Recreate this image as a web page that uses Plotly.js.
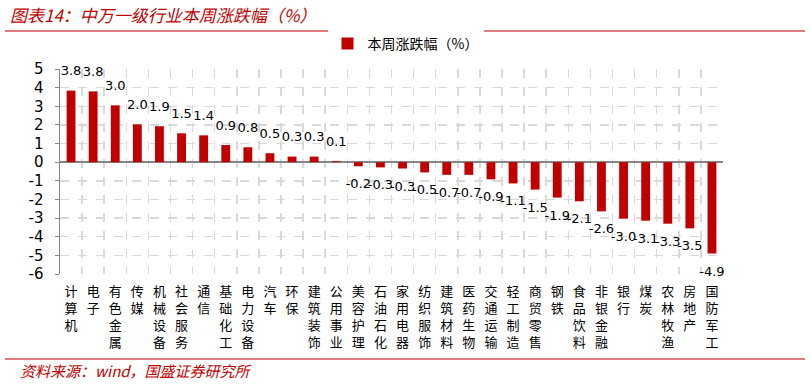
<!DOCTYPE html>
<html><head><meta charset="utf-8">
<script src="https://cdn.plot.ly/plotly-3.0.1.min.js"></script>
<style>html,body{margin:0;padding:0;background:#fff}#chart{width:811px;height:384px}</style>
</head><body><div id="chart"></div>
<script>
const categories = ["计算机","电子","有色金属","传媒","机械设备","社会服务","通信","基础化工","电力设备","汽车","环保","建筑装饰","公用事业","美容护理","石油石化","家用电器","纺织服饰","建筑材料","医药生物","交通运输","轻工制造","商贸零售","钢铁","食品饮料","非银金融","银行","煤炭","农林牧渔","房地产","国防军工"];
const values = [3.84,3.8,3.05,2.03,1.93,1.55,1.44,0.92,0.8,0.48,0.3,0.3,0.05,-0.22,-0.28,-0.34,-0.55,-0.68,-0.68,-0.92,-1.14,-1.47,-1.9,-2.1,-2.64,-3.03,-3.14,-3.3,-3.55,-4.9];
const labels = ["3.8","3.8","3.0","2.0","1.9","1.5","1.4","0.9","0.8","0.5","0.3","0.3","0.1","-0.2","-0.3","-0.3","-0.5","-0.7","-0.7","-0.9","-1.1","-1.5","-1.9","-2.1","-2.6","-3.0","-3.1","-3.3","-3.5","-4.9"];
const yTicks = [5,4,3,2,1,0,-1,-2,-3,-4,-5,-6];
const seriesName = "本周涨跌幅（%）";
const titleText = "图表14：中万一级行业本周涨跌幅（%）";
const sourceText = "资料来源：wind，国盛证券研究所";

const tickText = categories.map(c => c.split("").join("<br>"));

const bars = {
  type: "bar", x: categories, y: values, name: seriesName,
  marker: {color: "#C00000"}, width: 0.4, showlegend: true, hoverinfo: "skip"
};
const valueLabels = {
  type: "scatter", mode: "markers+text", x: categories, y: values, text: labels,
  textposition: values.map(v => v >= 0 ? "top center" : "bottom center"),
  marker: {size: 18, opacity: 0, color: "#C00000"}, cliponaxis: false, showlegend: false,
  textfont: {family: "DejaVu Sans", size: 13, color: "#000"}, hoverinfo: "skip"
};

const L = 60, R = 723, T = 69, B = 274;
const W = R - L, H = B - T;
const px = x => (x - L) / W;
const py = y => (B - y) / H;

const layout = {
  width: 811, height: 384,
  margin: {l: L, r: 811 - R, t: T, b: 384 - B},
  paper_bgcolor: "#fff", plot_bgcolor: "#fff",
  showlegend: true,
  legend: {orientation: "h", xref: "container", yref: "container", x: 0.5, xanchor: "center", y: 1 - 44/384, yanchor: "middle",
    font: {family: "Noto Sans CJK SC", size: 14, color: "#000"}},
  xaxis: {type: "category", tickvals: categories, ticktext: tickText, tickson: "boundaries",
    showgrid: true, gridcolor: "#D9D9D9", griddash: "dash", gridwidth: 1.5,
    ticks: "", showline: false, zeroline: false, ticklabelstandoff: 8,
    tickfont: {family: "Noto Sans CJK SC", size: 13, color: "#000"}, tickangle: 0, range: [-0.5, 29.5]},
  yaxis: {range: [-6, 5], tickvals: yTicks, ticktext: yTicks.map(String),
    showgrid: true, gridcolor: "#D9D9D9", griddash: "dash", gridwidth: 1.5,
    zeroline: true, zerolinecolor: "#868686", zerolinewidth: 1.5,
    showline: true, linecolor: "#868686", linewidth: 1.5,
    ticks: "outside", ticklen: 4, tickcolor: "#868686", ticklabelstandoff: 8,
    tickfont: {family: "DejaVu Sans", size: 15, color: "#000"}},
  shapes: [
    {type: "line", xref: "paper", yref: "paper", x0: px(5), x1: px(805), y0: py(31), y1: py(31), line: {color: "#D95050", width: 1.5}},
    {type: "line", xref: "paper", yref: "paper", x0: px(5), x1: px(805), y0: py(359), y1: py(359), line: {color: "#D95050", width: 1.5}}
  ],
  annotations: [
    {text: titleText, xref: "paper", yref: "paper", x: px(8), y: py(14), xanchor: "left", yanchor: "middle", showarrow: false,
      font: {family: "Noto Sans CJK SC", size: 17, color: "#C00000", style: "italic"}},
    {text: sourceText, xref: "paper", yref: "paper", x: px(18), y: py(370), xanchor: "left", yanchor: "middle", showarrow: false,
      font: {family: "Noto Sans CJK SC", size: 15, color: "#C00000", style: "italic"}}
  ]
};

Plotly.newPlot("chart", [bars, valueLabels], layout, {displayModeBar: false, staticPlot: true});
</script></body></html>
